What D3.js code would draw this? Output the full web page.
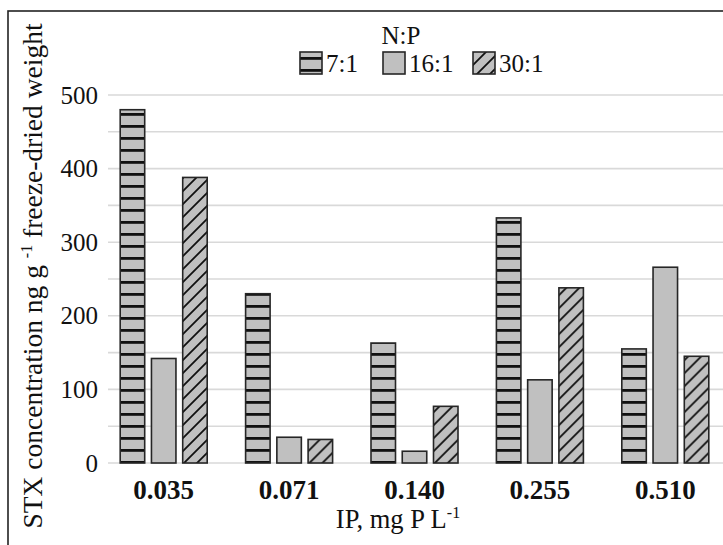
<!DOCTYPE html>
<html>
<head>
<meta charset="utf-8">
<script src="https://cdn.jsdelivr.net/npm/d3@7"></script>
<style>
  body { margin: 0; background: #fff; }
  svg { display: block; }
  text { font-family: "Liberation Serif", "Times New Roman", serif; }
</style>
</head>
<body>
<script>
var categories = ["0.035", "0.071", "0.140", "0.255", "0.510"];
var series = ["7:1", "16:1", "30:1"];
var values_7 = [480, 230, 163, 333, 155];
var values_16 = [142, 35, 16, 113, 266];
var values_30 = [388, 32, 77, 238, 145];
var y_ticks = [0, 100, 200, 300, 400, 500];

var svg_width = 723, svg_height = 545;
var font = "Liberation Serif";
var bar_fill = "#c0c0c0";
var bar_stroke = "#262626";
var grid_color = "#d9d9d9";

var svg = d3.select("body").append("svg")
  .attr("width", svg_width).attr("height", svg_height)
  .attr("font-family", font);

// patterns for the bars
var defs = svg.append("defs");
var hz = defs.append("pattern").attr("id", "hz")
  .attr("patternUnits", "userSpaceOnUse").attr("width", 10).attr("height", 12);
hz.append("rect").attr("width", 10).attr("height", 12).attr("fill", bar_fill);
hz.append("rect").attr("x", 0).attr("y", 5).attr("width", 10).attr("height", 2.8).attr("fill", "#111");

var dg = defs.append("pattern").attr("id", "dg")
  .attr("patternUnits", "userSpaceOnUse").attr("width", 13).attr("height", 13);
dg.append("rect").attr("width", 13).attr("height", 13).attr("fill", bar_fill);
dg.append("path").attr("d", "M-3,3 L3,-3 M0,13 L13,0 M10,16 L16,10")
  .attr("stroke", "#111").attr("stroke-width", 1.8);

var fills = { "7:1": "url(#hz)", "16:1": bar_fill, "30:1": "url(#dg)" };

// outer frame (cut off at right and bottom in the original)
svg.append("rect").attr("x", 8).attr("y", 11)
  .attr("width", 800).attr("height", 600)
  .attr("fill", "none").attr("stroke", "#222").attr("stroke-width", 1.6);

var plot_left = 108, plot_right = 723;
var y = d3.scaleLinear().domain([0, 500]).range([463, 95]);
var x0 = d3.scaleBand().domain(categories).range([101, 728]);
var group_w = 87;
var x1 = d3.scaleBand().domain(series)
  .range([(x0.bandwidth() - group_w) / 2, (x0.bandwidth() + group_w) / 2])
  .paddingInner(0.216);

// gridlines
svg.append("g").selectAll("line").data(y.ticks(10)).enter().append("line")
  .attr("x1", plot_left).attr("x2", plot_right)
  .attr("y1", function(d) { return y(d); }).attr("y2", function(d) { return y(d); })
  .attr("stroke", grid_color).attr("stroke-width", 1.6);

// y axis labels
var yaxis = svg.append("g").attr("transform", "translate(" + plot_left + ",0)")
  .call(d3.axisLeft(y).tickValues(y_ticks).tickSize(0).tickPadding(10));
yaxis.attr("font-family", null).attr("font-size", null);
yaxis.select(".domain").remove();
yaxis.selectAll("text").attr("font-size", 25).attr("fill", "#111");

// x axis labels
var xaxis = svg.append("g").attr("transform", "translate(0,474)")
  .call(d3.axisBottom(x0).tickSize(0).tickPadding(6));
xaxis.attr("font-family", null).attr("font-size", null);
xaxis.select(".domain").remove();
xaxis.selectAll("text").attr("font-size", 27)
  .attr("font-weight", "bold").attr("fill", "#111");

// bars
var rows = categories.map(function(c, i) {
  return { cat: c, vals: [
    { s: "7:1", v: values_7[i] },
    { s: "16:1", v: values_16[i] },
    { s: "30:1", v: values_30[i] }] };
});

svg.append("g").selectAll("g").data(rows).enter().append("g")
  .attr("transform", function(d) { return "translate(" + x0(d.cat) + ",0)"; })
  .selectAll("rect").data(function(d) { return d.vals; }).enter().append("rect")
  .attr("x", function(d) { return x1(d.s); })
  .attr("y", function(d) { return y(d.v); })
  .attr("width", x1.bandwidth())
  .attr("height", function(d) { return y(0) - y(d.v); })
  .attr("fill", function(d) { return fills[d.s]; })
  .attr("stroke", bar_stroke).attr("stroke-width", 1.6);

// axis titles
var ytitle = svg.append("text")
  .attr("transform", "translate(42,276) rotate(-90)")
  .attr("text-anchor", "middle")
  .attr("font-size", 27.5).attr("fill", "#111");
ytitle.append("tspan").text("STX concentration ng g ");
ytitle.append("tspan").text("-1").attr("font-size", 16).attr("dy", -10);
ytitle.append("tspan").text(" freeze-dried weight").attr("dy", 10);

var xtitle = svg.append("text")
  .attr("x", 398).attr("y", 528)
  .attr("text-anchor", "middle")
  .attr("font-size", 26.5).attr("fill", "#111");
xtitle.append("tspan").text("IP, mg P L");
xtitle.append("tspan").text("-1").attr("font-size", 16).attr("dy", -10);

// legend
svg.append("text").attr("x", 401).attr("y", 44).attr("text-anchor", "middle")
  .attr("font-size", 25).attr("fill", "#111")
  .text("N:P");

var legend_x = [300, 383, 473];
var leg = svg.append("g").selectAll("g").data(series).enter().append("g")
  .attr("transform", function(d, i) { return "translate(" + legend_x[i] + ",52)"; });
leg.append("rect").attr("width", 22).attr("height", 22)
  .attr("fill", function(d) { return fills[d]; })
  .attr("stroke", bar_stroke).attr("stroke-width", 1.6);
leg.append("text").attr("x", 26).attr("y", 20)
  .attr("font-size", 25).attr("fill", "#111")
  .text(function(d) { return d; });
</script>
</body>
</html>
